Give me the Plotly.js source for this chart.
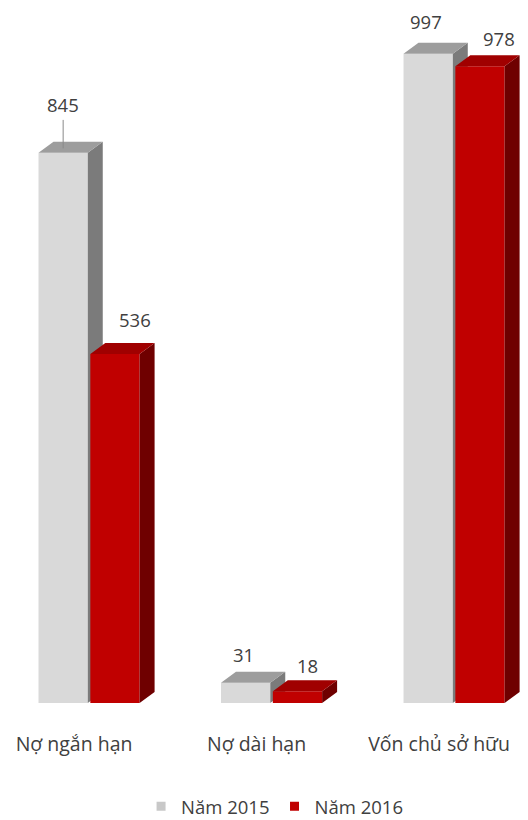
<!DOCTYPE html>
<html><head><meta charset="utf-8">
<script src="https://cdn.plot.ly/plotly-3.0.1.min.js"></script>
<style>html,body{margin:0;padding:0;background:#fff}</style>
</head><body><div id="chart" style="width:528px;height:820px"></div>
<script>
// ---- data ----
const categories = ['Nợ ngắn hạn', 'Nợ dài hạn', 'Vốn chủ sở hữu'];
const seriesNames = ['Năm 2015', 'Năm 2016'];
const values2015 = [845, 31, 997];
const values2016 = [536, 18, 978];

// ---- styling ----
const W = 0.27;            // bar width (x units)
const OFF = [-0.142, 0.142];
const DX = 0.082, DY = 17; // 3D depth offset
const palette = [
  {front: '#d9d9d9', side: '#7b7b7b', top: '#9d9d9d', legend: '#c8c8c8'},
  {front: '#c00000', side: '#6f0000', top: '#a00000', legend: '#c00000'}
];
const labelShift = [
  [[-8, 37], [-10, 17], [-10, 21]],
  [[13, 23], [3, 15], [12, 17]]
];
const txt = '#404040';
const FONT = 'Open Sans, Noto Sans, sans-serif';

const allVals = [values2015, values2016];
const traces = [];
const annotations = [];

allVals.forEach((vals, s) => {
  const fx = [], fy = [], sx = [], sy = [], tx = [], ty = [];
  vals.forEach((v, i) => {
    const x0 = i + OFF[s] - W / 2, x1 = x0 + W;
    fx.push(x0, x1, x1, x0, x0, null); fy.push(0, 0, v, v, 0, null);
    sx.push(x1, x1 + DX, x1 + DX, x1, x1, null); sy.push(0, DY, v + DY, v, 0, null);
    tx.push(x0, x1, x1 + DX, x0 + DX, x0, null); ty.push(v, v, v + DY, v + DY, v, null);
    const sh = labelShift[s][i];
    annotations.push({
      x: i + OFF[s] + DX / 2, y: v + DY, xref: 'x', yref: 'y',
      text: String(v), showarrow: false, xshift: sh[0], yshift: sh[1],
      font: {family: FONT, size: 18.5, color: txt}
    });
  });
  const face = (x, y, c) => ({
    type: 'scatter', mode: 'lines', x: x, y: y, fill: 'toself', fillcolor: c,
    line: {width: 0, color: c}, hoverinfo: 'skip', showlegend: false
  });
  traces.push(face(fx, fy, palette[s].front));
  traces.push(face(sx, sy, palette[s].side));
  traces.push(face(tx, ty, palette[s].top));
});

// legend entries
seriesNames.forEach((n, s) => {
  traces.push({
    type: 'scatter', mode: 'markers', x: [null], y: [null], name: n,
    marker: {symbol: 'square', size: 9, color: palette[s].legend}, hoverinfo: 'skip'
  });
});

// leader line for 845
annotations.push({
  x: 0 + OFF[0], y: values2015[0] + DY * 0.4, xref: 'x', yref: 'y',
  showarrow: true, arrowhead: 0, arrowwidth: 1, arrowcolor: '#8a8a8a',
  ax: 0, ay: -30, text: ''
});

const layout = {
  width: 528, height: 820,
  margin: {l: 0, r: 0, t: 20, b: 117, autoexpand: false},
  paper_bgcolor: '#ffffff', plot_bgcolor: '#ffffff',
  showlegend: true,
  font: {family: FONT, color: txt},
  xaxis: {
    type: 'linear', range: [-0.488, 2.405], fixedrange: true,
    tickmode: 'array', tickvals: [0, 1, 2], ticktext: categories,
    ticks: '', showgrid: false, zeroline: false, showline: false,
    tickfont: {family: FONT, size: 19.5, color: txt},
    ticklabelstandoff: 27, ticklabelshift: -15, automargin: false
  },
  yaxis: {
    range: [0, 1049], visible: false, fixedrange: true,
    showgrid: false, zeroline: false
  },
  legend: {
    orientation: 'h', x: 0.52, xanchor: 'center', y: -0.152, yanchor: 'middle',
    font: {family: FONT, size: 18.5, color: txt}, bgcolor: 'rgba(0,0,0,0)',
    borderwidth: 0, tracegroupgap: 0
  },
  annotations: annotations
};

Plotly.newPlot('chart', traces, layout, {displayModeBar: false, staticPlot: true});
</script>
</body></html>
